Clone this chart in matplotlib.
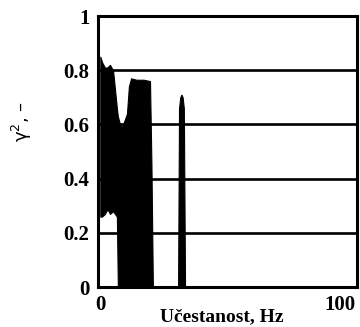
import numpy as np
import matplotlib
matplotlib.use("Agg")
import matplotlib.pyplot as plt

# coherence envelope (dense trace drawn as a filled band)
freq = [0.0, 0.7, 1.9, 2.8, 3.5, 4.0, 5.3, 6.9, 7.3, 8.2, 9.0, 10.3, 11.1, 11.9, 12.8,
        15.0, 18.0, 20.7, 21.3, 21.9]
upper = [0.85, 0.83, 0.81, 0.81, 0.815, 0.82, 0.80, 0.66, 0.63, 0.60, 0.59, 0.62, 0.64,
         0.74, 0.77, 0.765, 0.765, 0.76, 0.45, 0.0]
lower = [0.26, 0.26, 0.27, 0.285, 0.28, 0.27, 0.28, 0.26, 0.0, 0.0, 0.0, 0.0, 0.0,
         0.0, 0.0, 0.0, 0.0, 0.0, 0.0, 0.0]

# narrow peak near 34 Hz
spike_freq = [32.4, 32.8, 33.3, 33.8, 34.3, 34.8, 35.3]
spike_val = [0.0, 0.66, 0.70, 0.71, 0.70, 0.66, 0.0]

yticks = [0, 0.2, 0.4, 0.6, 0.8, 1]
ytick_labels = ["0", "0.2", "0.4", "0.6", "0.8", "1"]
xticks = [0, 100]
xtick_labels = ["0", "100"]

serif = ["Liberation Serif", "DejaVu Serif"]

fig = plt.figure(figsize=(3.6, 3.27), dpi=100)
ax = fig.add_axes([0.272, 0.122, 0.72, 0.829])

for y in yticks[1:-1]:
    ax.axhline(y, color="black", lw=1.9, zorder=1)

ax.fill_between(freq, lower, upper, color="black", lw=0.8, zorder=2)
ax.fill_between(spike_freq, 0, spike_val, color="black", lw=0.8, zorder=2)

ax.set_xlim(-1, 107)
ax.set_ylim(0, 1)
ax.set_yticks(yticks)
ax.set_yticklabels(ytick_labels, fontfamily=serif, fontweight="bold", fontsize=15)
ax.set_xticks(xticks)
ax.set_xticklabels(xtick_labels, fontfamily=serif, fontweight="bold", fontsize=15)
ax.tick_params(length=0, pad=6)
for s in ax.spines.values():
    s.set_linewidth(2.2)
    s.set_zorder(3)

fig.text(222 / 360, 1 - 317 / 327, "Učestanost, Hz", ha="center", va="center",
         fontfamily=serif, fontweight="bold", fontsize=14)
fig.text(22 / 360, 1 - 122 / 327, "γ$^2$, –", ha="center", va="center",
         rotation=90, fontsize=13)

fig.savefig("out.png", dpi=100)
